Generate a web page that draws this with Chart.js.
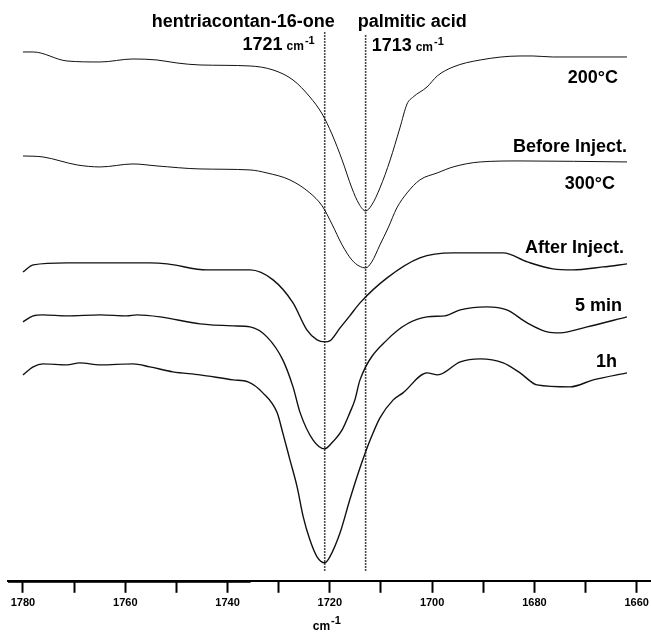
<!DOCTYPE html>
<html>
<head>
<meta charset="utf-8">
<script src="https://cdn.jsdelivr.net/npm/chart.js@4.4.1/dist/chart.umd.min.js"></script>
<style>
  html, body { margin: 0; padding: 0; background: #fff; }
  canvas { display: block; }
</style>
</head>
<body>
<canvas id="ir" width="651" height="638"></canvas>
<script>
// carbonyl region of the IR spectra, wavenumber (cm-1) vs. offset transmittance (a.u.)
const wn200 = [1780, 1778, 1771.4, 1764.9, 1758.5, 1753.8, 1749.9, 1745.4, 1735.6, 1731.1, 1727.2, 1723.9, 1721.5, 1719.6, 1717.6, 1715.7, 1714.3, 1713, 1711.8, 1710.2, 1708.2, 1706.3, 1704.9, 1703.7, 1701.0, 1699.0, 1695.9, 1690.6, 1682.8, 1680.3, 1676.4, 1661.9];
const t200 = [529, 529, 520, 519, 522, 521, 518, 516, 515, 511, 501, 484, 467, 447, 421, 393, 377, 370, 376, 393, 421, 453, 477, 484, 494, 505, 514, 521, 525, 525, 524, 524];

const wn300 = [1780, 1776.1, 1769.4, 1764.9, 1758.5, 1753.8, 1745.4, 1735.6, 1732.3, 1727.8, 1723.9, 1721.5, 1719.6, 1717.6, 1715.7, 1714.3, 1713, 1711.8, 1710.2, 1708.6, 1706.9, 1704.9, 1702.4, 1699.0, 1695.9, 1690.6, 1682.8, 1661.9];
const t300 = [425, 424, 416, 414, 417, 415, 412, 411, 408, 401, 388, 375, 357, 336, 321, 315, 313, 319, 336, 353, 373, 388, 401, 408, 414, 419, 420, 419];

const wnAfter = [1780, 1778, 1771.4, 1764.9, 1755.2, 1751.8, 1744.0, 1735.6, 1731.1, 1727.2, 1724.5, 1722.5, 1721, 1720.0, 1718.0, 1716.1, 1714.1, 1708.8, 1702.4, 1695.9, 1689.3, 1686.1, 1681.4, 1676.4, 1672.5, 1666.6, 1661.9];
const tAfter = [309, 316, 318, 318, 318, 317, 311, 311, 301, 278, 251, 241, 239, 240, 253, 265, 278, 303, 323, 328, 328, 328, 319, 312, 311, 314, 317];

const wn5min = [1780, 1778, 1776.1, 1771.4, 1764.9, 1759.7, 1757.7, 1753.2, 1745.4, 1738.9, 1735.6, 1732.3, 1729.2, 1727.2, 1725.8, 1723.3, 1721, 1719.6, 1717.6, 1716.1, 1715.1, 1714.1, 1708.8, 1701.0, 1697.5, 1694.5, 1689.3, 1685.4, 1681.4, 1677.5, 1675.0, 1669.7, 1661.9];
const t5min = [259, 265, 266, 265, 266, 265, 266, 264, 257, 255, 254, 244, 221, 194, 168, 141, 132, 138, 151, 168, 181, 201, 241, 264, 265, 271, 274, 271, 258, 249, 248, 254, 264];

const wn1h = [1780, 1778, 1776.1, 1771.4, 1768.9, 1764.9, 1758.5, 1755.2, 1750.7, 1745.4, 1738.9, 1736.0, 1733.1, 1730.3, 1729.2, 1727.8, 1726.4, 1725.2, 1723.9, 1722.5, 1721, 1720.0, 1718.0, 1716.1, 1714.1, 1712.1, 1710.2, 1707.6, 1705.7, 1701.0, 1698.9, 1694.5, 1690.6, 1686.1, 1682.8, 1679.5, 1673.0, 1668.5, 1661.9];
const t1h = [206, 214, 217, 216, 218, 216, 217, 214, 209, 206, 201, 199, 188, 168, 148, 121, 94, 64, 41, 24, 18, 24, 48, 81, 113, 141, 163, 181, 188, 208, 206, 219, 222, 218, 208, 196, 194, 201, 208];

// reference band positions
const bandKetone = 1721;
const bandAcid = 1713;
const bandNames = ['hentriacontan-16-one', 'palmitic acid'];

const traceLabels = ['200°C', 'Before Inject.', '300°C', 'After Inject.', '5 min', '1h'];

const xTicks = [1780, 1770, 1760, 1750, 1740, 1730, 1720, 1710, 1700, 1690, 1680, 1670, 1660];
const xTickLabels = ['1780', '', '1760', '', '1740', '', '1720', '', '1700', '', '1680', '', '1660'];

const zip = (xs, ys) => xs.map((v, i) => ({ x: v, y: ys[i] }));

const FONT = '"Liberation Sans", Arial, Helvetica, sans-serif';

function spectrum(xs, ys, width) {
  return {
    data: zip(xs, ys),
    borderColor: '#111',
    borderWidth: width,
    pointRadius: 0,
    cubicInterpolationMode: 'monotone',
    fill: false
  };
}

function bandLine(pos, top) {
  return {
    data: [{ x: pos, y: 10 }, { x: pos, y: top }],
    borderColor: '#111',
    borderWidth: 1.6,
    borderDash: [1.5, 1.5],
    pointRadius: 0,
    fill: false
  };
}

// superscripted "cm-1" unit after a number
function drawWithUnit(ctx, num, x, base, anchorRight, numFont) {
  ctx.font = numFont;
  const wNum = num ? ctx.measureText(num).width : 0;
  ctx.font = 'bold 12px ' + FONT;
  const wCm = ctx.measureText('cm').width;
  ctx.font = 'bold 11px ' + FONT;
  const wSup = ctx.measureText('-1').width;
  const gap = num ? 4 : 0;
  const total = wNum + gap + wCm + 1 + wSup;
  let x0 = anchorRight === 'right' ? x - total : anchorRight === 'center' ? x - total / 2 : x;
  ctx.textAlign = 'left';
  if (num) {
    ctx.font = numFont;
    ctx.fillText(num, x0, base);
  }
  x0 += wNum + gap;
  ctx.font = 'bold 12px ' + FONT;
  ctx.fillText('cm', x0, base);
  x0 += wCm + 1;
  ctx.font = 'bold 11px ' + FONT;
  ctx.fillText('-1', x0, base - 6);
}

const overlay = {
  id: 'overlay',
  afterDraw(chart) {
    const { ctx, chartArea, scales: { x } } = chart;
    const xk = x.getPixelForValue(bandKetone);
    const xa = x.getPixelForValue(bandAcid);
    ctx.save();
    ctx.fillStyle = '#000';
    ctx.textBaseline = 'alphabetic';

    // band assignments
    ctx.font = 'bold 18px ' + FONT;
    ctx.textAlign = 'right';
    ctx.fillText(bandNames[0], xk + 10, 27);
    ctx.textAlign = 'left';
    ctx.fillText(bandNames[1], xa - 8, 27);
    drawWithUnit(ctx, String(bandKetone), xk - 10, 50, 'right', 'bold 18px ' + FONT);
    drawWithUnit(ctx, String(bandAcid), xa + 6, 51, 'left', 'bold 18px ' + FONT);

    // trace captions on the right
    const spots = [[618, 83], [627, 152], [615, 189], [624, 253], [622, 311], [617, 367]];
    ctx.font = 'bold 18px ' + FONT;
    ctx.textAlign = 'right';
    traceLabels.forEach((t, i) => ctx.fillText(t, spots[i][0], spots[i][1]));

    // axis unit
    drawWithUnit(ctx, '', x.getPixelForValue(1720) - 3, chartArea.bottom + 49, 'center', 'bold 12px ' + FONT);

    // heavier stretch of the baseline on the left
    ctx.strokeStyle = '#000';
    ctx.lineWidth = 1;
    ctx.beginPath();
    ctx.moveTo(chartArea.left, chartArea.bottom + 1.5);
    ctx.lineTo(x.getPixelForValue(1735.5), chartArea.bottom + 1.5);
    ctx.stroke();
    ctx.restore();
  }
};

new Chart(document.getElementById('ir'), {
  type: 'line',
  data: {
    datasets: [
      spectrum(wn200, t200, 1),
      spectrum(wn300, t300, 1),
      spectrum(wnAfter, tAfter, 1.4),
      spectrum(wn5min, t5min, 1.4),
      spectrum(wn1h, t1h, 1.4),
      bandLine(bandKetone, 549),
      bandLine(bandAcid, 546)
    ]
  },
  options: {
    responsive: false,
    animation: false,
    events: [],
    layout: { padding: { left: 8, right: 0, top: 0, bottom: 24 } },
    plugins: { legend: { display: false }, tooltip: { enabled: false } },
    scales: {
      x: {
        type: 'linear',
        reverse: true,
        min: 1657.2,
        max: 1782.93,
        afterBuildTicks: (scale) => { scale.ticks = xTicks.map(v => ({ value: v })); },
        afterFit: (scale) => { scale.paddingLeft = 0; scale.paddingRight = 0; },
        ticks: {
          autoSkip: false,
          maxRotation: 0,
          padding: 4,
          color: '#000',
          font: { family: FONT, size: 11, weight: 'bold' },
          callback: (v, i) => xTickLabels[i]
        },
        grid: {
          display: true,
          drawOnChartArea: false,
          drawTicks: true,
          tickLength: 12,
          tickWidth: 2,
          tickColor: '#000',
          color: '#000'
        },
        border: { display: true, color: '#000', width: 2 }
      },
      y: { display: false, min: 0, max: 581 }
    }
  },
  plugins: [overlay]
});
</script>
</body>
</html>
